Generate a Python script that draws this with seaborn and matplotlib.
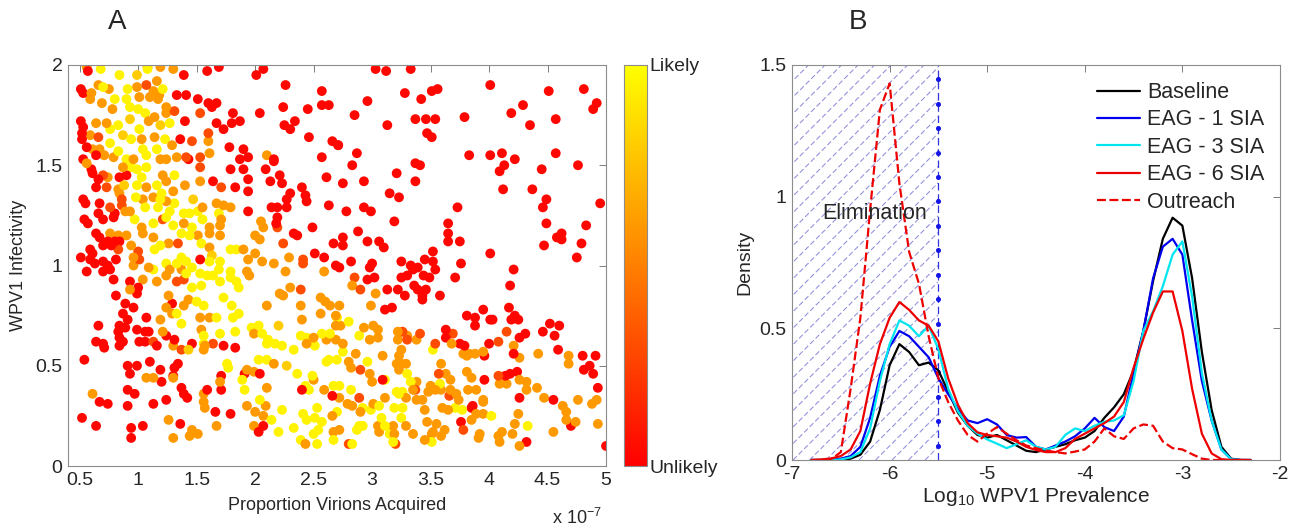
import numpy as np
import pandas as pd
import matplotlib
matplotlib.use("Agg")
import matplotlib.pyplot as plt
import seaborn as sns
from matplotlib.colors import Normalize
from matplotlib.cm import ScalarMappable

# ---------------- Panel A: parameter sets, grouped by likelihood band ----------------
# (proportion of virions acquired [x 1e-7], WPV1 infectivity)
likelihood_levels = {"red": 0.03, "red_orange": 0.3, "orange": 0.6, "yellow_orange": 0.8, "yellow": 0.95}

red_pts = [
    (0.57,1.97),(1.39,1.95),(1.59,1.97),(1.69,1.99),(2.01,1.95),(2.07,1.98),(0.51,1.88),(0.53,1.86),(1.33,1.85),(1.41,1.85),
    (2.26,1.90),(2.57,1.87),(1.51,1.83),(1.60,1.81),(1.67,1.81),(1.63,1.79),(1.40,1.72),(1.81,1.76),(2.04,1.76),(2.24,1.79),
    (2.45,1.78),(2.57,1.80),(2.63,1.80),(1.67,1.71),(1.73,1.68),(1.80,1.71),(1.87,1.72),(2.25,1.70),(2.30,1.68),(2.34,1.72),
    (0.51,1.72),(0.53,1.69),(0.52,1.66),(0.52,1.63),(1.36,1.63),(0.56,1.59),(0.64,1.55),(1.43,1.53),(1.78,1.59),(1.90,1.58),
    (1.94,1.54),(1.87,1.53),(2.16,1.53),(2.46,1.64),(2.57,1.54),(2.66,1.62),(2.71,1.60),(0.53,1.53),(0.60,1.48),(0.61,1.46),
    (0.66,1.43),(0.64,1.39),(0.84,1.44),(0.90,1.45),(1.64,1.42),(1.79,1.48),(1.90,1.48),(1.83,1.39),(1.94,1.43),(2.09,1.48),
    (2.13,1.42),(2.16,1.52),(2.21,1.45),(2.23,1.41),(2.40,1.39),(2.61,1.44),(1.94,1.37),(0.53,1.33),(0.55,1.31),(0.67,1.31),
    (0.66,1.26),(0.54,1.23),(0.57,1.21),(0.80,1.26),(0.79,1.24),(0.70,1.23),(1.94,1.27),(2.18,1.21),(2.19,1.24),(2.14,1.29),
    (2.19,1.29),(2.27,1.33),(2.30,1.36),(2.27,1.29),(2.44,1.32),(2.43,1.35),(2.63,1.30),(2.49,1.19),(0.64,1.16),(0.74,1.12),
    (0.80,1.12),(0.84,1.12),(0.67,1.14),(0.70,1.10),(0.77,1.10),(2.33,1.16),(2.36,1.15),(2.67,1.11),(0.51,1.04),(0.59,1.08),
    (0.61,1.06),(0.59,1.03),(0.63,1.01),(0.70,1.02),(0.74,1.00),(0.81,1.03),(0.56,0.97),(0.70,0.97),(0.79,0.93),(0.76,0.98),
    (1.53,1.03),(2.51,1.06),(2.59,1.04),(2.69,1.00),(0.93,0.92),(1.00,0.89),(0.99,0.86),(0.81,0.85),(0.89,0.81),(0.87,0.76),
    (0.91,0.73),(1.07,0.74),(0.96,0.79),(1.29,0.81),(0.66,0.70),(0.84,0.70),(0.89,0.69),(0.83,0.67),(0.84,0.64),(0.87,0.62),
    (0.99,0.68),(1.06,0.67),(1.09,0.67),(1.01,0.62),(1.06,0.62),(1.16,0.60),(0.64,0.62),(0.70,0.61),(0.71,0.59),(0.84,0.60),
    (1.24,0.65),(1.31,0.63),(1.46,0.61),(1.73,0.60),(1.83,0.59),(0.54,0.53),(0.91,0.50),(0.93,0.46),(0.99,0.50),(1.10,0.52),
    (1.19,0.48),(1.31,0.49),(1.34,0.51),(1.30,0.45),(1.20,0.42),(0.91,0.38),(0.97,0.36),(1.39,0.36),(1.42,0.34),(1.37,0.39),
    (1.59,0.38),(1.71,0.45),(1.71,0.38),(1.91,0.46),(2.04,0.46),(2.40,0.38),(2.66,0.35),(0.67,0.32),(0.74,0.31),(0.91,0.30),
    (1.13,0.31),(1.24,0.33),(1.66,0.27),(1.79,0.26),(2.07,0.20),(2.03,0.17),(0.52,0.24),(0.64,0.20),(0.94,0.19),(0.94,0.14),
    (1.04,0.20),(1.36,0.21),
    (3.03,1.98),(3.12,1.97),(3.33,1.98),(3.28,1.86),(3.42,1.83),(3.51,1.87),(3.56,1.88),(2.96,1.82),(2.85,1.75),(3.13,1.70),
    (3.37,1.73),(3.46,1.73),(3.54,1.73),(3.47,1.66),(3.51,1.64),(3.79,1.74),(4.01,1.90),(4.19,1.76),(4.29,1.80),(4.35,1.70),
    (4.51,1.87),(4.57,1.73),(4.81,1.88),(4.89,1.78),(4.92,1.81),(2.71,1.60),(2.87,1.56),(2.83,1.50),(2.93,1.42),(2.75,1.41),
    (3.21,1.46),(3.37,1.51),(3.41,1.50),(3.37,1.42),(3.15,1.36),(3.23,1.34),(3.83,1.55),(4.01,1.55),(4.11,1.56),(4.13,1.50),
    (4.09,1.47),(4.22,1.53),(4.12,1.38),(4.57,1.56),(4.45,1.48),(4.76,1.50),(4.37,1.38),(4.49,1.33),(4.46,1.29),(4.49,1.21),
    (4.47,1.10),(4.58,1.14),(4.62,1.16),(4.62,1.13),(4.79,1.11),(4.83,1.20),(4.75,1.04),(4.95,1.31),(2.78,1.27),(2.93,1.29),
    (2.99,1.27),(3.19,1.22),(2.88,1.17),(2.75,1.14),(2.75,1.10),(2.96,1.12),(3.06,1.12),(3.10,1.09),(3.73,1.29),(3.65,1.21),
    (3.65,1.16),(3.65,1.12),(3.75,1.12),(3.52,1.07),(3.76,1.01),(4.01,1.06),(4.21,0.98),(4.18,0.90),(2.82,1.02),(2.98,0.99),
    (3.00,1.01),(2.96,0.93),(3.02,0.94),(3.13,0.88),(3.25,1.02),(3.33,1.00),(3.25,0.94),(3.30,0.95),(3.35,0.98),(3.39,0.99),
    (3.45,1.03),(3.52,1.02),(3.54,0.98),(3.44,0.95),(3.49,0.94),(3.36,0.90),(3.39,0.88),(3.46,0.88),(3.43,0.85),(3.22,0.88),
    (3.28,0.85),(3.43,0.83),(3.58,0.85),(3.71,0.94),(3.11,0.78),(3.17,0.79),(3.81,0.75),(3.88,0.74),(3.88,0.70),(3.95,0.78),
    (4.01,0.73),(4.03,0.73),(4.17,0.79),(4.19,0.73),(4.22,0.75),(4.25,0.73),(2.72,0.99),(3.63,0.68),(3.63,0.64),(3.75,0.61),
    (3.79,0.60),(3.96,0.55),(4.00,0.61),(4.21,0.56),(4.26,0.64),(4.31,0.66),(4.59,0.58),(4.80,0.55),(4.91,0.55),(4.81,0.48),
    (4.86,0.50),(4.89,0.46),(4.93,0.39),(4.52,0.71),(4.60,0.70),(4.46,0.67),(4.56,0.65),(3.86,0.30),(3.96,0.43),(4.14,0.45),
    (4.18,0.46),(4.24,0.47),(4.26,0.34),(4.55,0.33),(4.70,0.20),(5.00,0.10),(4.32,0.12),(3.76,0.22),(3.85,0.29),(3.09,0.43),
]

red_orange_pts = [
    (1.07,1.90),(1.31,1.77),(1.53,1.76),(0.66,1.64),(1.46,1.62),(1.60,1.66),(1.41,1.54),(1.53,1.54),(0.70,1.45),(0.73,1.39),
    (1.53,1.49),(1.71,1.39),(0.86,1.33),(0.76,1.29),(0.86,1.30),(1.21,1.23),(1.34,1.11),(0.83,1.08),(1.00,1.07),(1.01,1.03),
    (2.19,1.19),(2.24,1.11),(1.39,0.93),(1.33,0.92),(2.41,1.03),(2.41,1.01),(2.39,0.88),(1.13,0.62),(1.37,0.58),(1.64,0.61),
    (2.85,0.94),(2.90,0.88),(2.90,0.48),(3.26,0.67),(3.30,0.63),(3.41,0.66),(3.54,0.61),(3.69,0.66),(4.08,0.62),(4.15,0.67),
    (3.57,0.46),(3.66,0.35),(4.08,0.45),(3.37,0.38),(2.89,0.34),(2.80,0.11),(3.20,0.11),(3.78,0.18),
]

orange_pts = [
    (0.56,1.99),(1.08,1.99),(1.19,1.99),(1.16,1.92),(1.30,1.98),(0.60,1.86),(0.66,1.90),(0.75,1.88),(0.99,1.89),(1.13,1.87),
    (1.18,1.85),(0.59,1.83),(0.69,1.81),(1.01,1.84),(1.10,1.84),(1.17,1.83),(0.78,1.78),(1.14,1.74),(1.24,1.79),(1.24,1.76),
    (0.64,1.71),(0.73,1.71),(1.09,1.72),(1.03,1.63),(1.14,1.64),(1.29,1.60),(1.60,1.62),(0.59,1.65),(0.61,1.58),(0.67,1.58),
    (0.71,1.55),(0.79,1.54),(0.96,1.53),(1.19,1.53),(1.24,1.53),(1.33,1.54),(1.61,1.56),(2.10,1.55),(0.56,1.51),(0.74,1.44),
    (0.87,1.49),(1.07,1.39),(1.21,1.45),(1.24,1.42),(1.40,1.40),(1.30,1.37),(1.53,1.42),(0.83,1.38),(0.84,1.36),(0.93,1.27),
    (0.89,1.27),(1.04,1.33),(1.13,1.34),(1.24,1.32),(1.55,1.29),(1.67,1.31),(1.73,1.30),(1.79,1.29),(1.71,1.23),(1.61,1.19),
    (1.70,1.20),(2.05,1.22),(2.07,1.19),(1.03,1.19),(1.39,1.21),(0.76,1.16),(0.83,1.15),(0.90,1.15),(0.94,1.10),(1.04,1.16),
    (1.13,1.14),(1.26,1.11),(1.51,1.15),(1.61,1.16),(1.70,1.15),(1.90,1.08),(2.00,1.15),(2.04,1.13),(2.00,1.06),(1.61,1.09),
    (0.96,1.04),(0.96,1.00),(1.09,0.99),(1.27,0.98),(1.37,0.98),(1.24,0.95),(1.94,1.03),(1.93,0.97),(1.95,0.95),(2.06,1.02),
    (2.16,1.01),(2.29,1.04),(2.26,0.97),(2.59,0.97),(0.93,0.88),(1.04,0.93),(1.16,0.92),(2.21,0.86),(2.24,0.85),(2.30,0.89),
    (1.26,0.85),(1.24,0.79),(1.29,0.76),(1.39,0.80),(1.43,0.83),(1.19,0.73),(1.53,0.74),(1.61,0.74),(2.10,0.80),(2.39,0.80),
    (2.40,0.73),(2.56,0.84),(2.60,0.82),(2.64,0.80),(2.69,0.75),(2.56,0.76),(2.69,0.70),(1.21,0.67),(1.30,0.60),(1.54,0.68),
    (1.57,0.60),(1.56,0.58),(1.99,0.66),(2.44,0.61),(2.50,0.64),(2.61,0.63),(2.69,0.63),(1.30,0.44),(1.13,0.44),(1.07,0.44),
    (1.70,0.42),(1.93,0.48),(1.99,0.47),(2.16,0.51),(2.50,0.43),(2.59,0.38),(2.10,0.39),(0.61,0.36),(1.56,0.36),(1.56,0.32),
    (1.57,0.29),(1.93,0.30),(2.09,0.30),(2.00,0.27),(2.07,0.25),(1.99,0.20),(2.43,0.11),(2.66,0.25),(2.67,0.17),(1.26,0.23),
    (1.30,0.14),(1.44,0.15),(1.46,0.18),(1.51,0.16),(1.67,0.20),
    (2.83,0.90),(2.72,0.80),(2.99,0.80),(3.03,0.86),(2.73,0.70),(2.93,0.69),(3.01,0.70),(3.05,0.68),(2.98,0.63),(3.05,0.64),
    (2.75,0.61),(2.86,0.56),(2.80,0.52),(2.82,0.49),(2.98,0.46),(3.09,0.55),(3.22,0.67),(3.30,0.65),(3.38,0.63),(3.22,0.63),
    (3.25,0.58),(3.23,0.55),(3.25,0.51),(3.21,0.51),(3.29,0.51),(3.23,0.48),(3.68,0.61),(3.78,0.56),(3.83,0.56),(3.81,0.55),
    (3.88,0.56),(3.95,0.57),(4.21,0.60),(4.26,0.54),(4.42,0.56),(4.68,0.55),(4.68,0.51),(3.59,0.51),(3.63,0.46),(3.67,0.43),
    (3.50,0.40),(3.54,0.38),(3.48,0.37),(3.59,0.38),(3.67,0.38),(3.72,0.36),(3.74,0.33),(3.81,0.47),(3.85,0.44),(3.89,0.38),
    (3.82,0.38),(3.95,0.33),(3.95,0.32),(3.89,0.26),(3.95,0.26),(4.26,0.43),(4.32,0.42),(4.09,0.41),(4.15,0.41),(4.32,0.38),
    (4.41,0.39),(4.47,0.34),(4.63,0.30),(4.66,0.27),(4.76,0.33),(4.88,0.31),(4.92,0.33),(4.66,0.23),(4.74,0.22),(4.93,0.21),
    (4.25,0.26),(4.22,0.21),(4.26,0.10),(4.20,0.16),(4.11,0.17),(4.08,0.15),(4.09,0.12),(4.55,0.17),(3.92,0.16),(3.91,0.14),
    (3.62,0.18),(3.59,0.15),(3.51,0.16),(3.45,0.13),(3.52,0.17),(3.47,0.22),(3.55,0.21),(3.43,0.33),(3.45,0.28),(3.38,0.33),
    (3.35,0.38),(3.38,0.42),(3.29,0.34),(3.18,0.20),(3.11,0.34),(3.00,0.42),(3.01,0.31),(2.90,0.27),(2.83,0.30),(2.79,0.31),
    (2.72,0.34),(2.72,0.18),(3.05,0.20),(3.06,0.17),(3.19,0.16),(3.29,0.20),(3.35,0.16),(3.60,0.29),(3.65,0.28),(3.85,0.23),
]

yellow_orange_pts = [
    (0.99,1.95),(0.87,1.65),(0.93,1.73),(1.43,0.58),(1.19,1.70),(0.88,1.40),(1.47,1.33),(1.63,1.05),(2.20,0.70),(2.27,0.50),
]

yellow_pts = [
    (0.68,1.98),(0.84,1.95),(1.08,1.98),(0.70,1.89),(0.91,1.88),(1.21,1.88),(0.80,1.83),(0.90,1.83),(0.93,1.79),(1.00,1.78),
    (1.06,1.76),(1.27,1.71),(0.83,1.70),(0.76,1.68),(0.76,1.61),(0.94,1.63),(1.01,1.68),(1.23,1.63),(0.83,1.57),(0.90,1.53),
    (1.04,1.58),(1.07,1.55),(1.16,1.58),(0.94,1.49),(0.99,1.48),(1.07,1.49),(1.03,1.44),(0.99,1.40),(1.16,1.40),(1.31,1.45),
    (1.20,1.36),(0.98,1.34),(1.06,1.29),(1.19,1.33),(1.17,1.29),(1.31,1.31),(1.27,1.27),(1.24,1.24),(1.39,1.26),(1.44,1.26),
    (1.51,1.27),(1.69,1.26),(1.55,1.23),(0.97,1.23),(1.13,1.21),(1.30,1.20),(1.46,1.19),(1.19,1.10),(1.14,1.08),(1.37,1.16),
    (1.44,1.15),(1.54,1.11),(1.79,1.08),(1.84,1.08),(1.13,0.98),(1.24,1.01),(1.33,1.01),(1.37,1.04),(1.41,1.02),(1.46,0.99),
    (1.61,1.02),(1.70,1.02),(1.69,0.98),(1.79,0.97),(1.59,0.95),(1.53,0.96),(1.41,0.96),(1.84,0.92),(1.86,0.89),(1.79,0.94),
    (1.70,0.92),(1.64,0.95),(1.46,0.89),(1.54,0.90),(1.33,0.76),(1.37,0.71),(1.50,0.82),(1.56,0.80),(1.67,0.74),(1.73,0.84),
    (1.80,0.80),(1.81,0.74),(1.86,0.76),(1.56,0.65),(1.56,0.61),(1.70,0.66),(1.83,0.67),(1.97,0.69),(2.03,0.70),(2.06,0.66),
    (2.11,0.63),(2.17,0.61),(2.23,0.60),(2.10,0.61),(2.33,0.58),(2.39,0.65),(2.44,0.64),(2.57,0.66),(2.64,0.66),(2.51,0.60),
    (2.63,0.53),(1.76,0.51),(1.77,0.49),(1.89,0.43),(1.91,0.38),(2.03,0.53),(2.10,0.53),(2.36,0.46),(2.49,0.45),(2.43,0.40),
    (2.46,0.38),(2.67,0.40),(2.61,0.52),(2.70,0.53),(2.04,0.33),(2.23,0.28),(2.14,0.23),(2.20,0.17),(2.33,0.19),(2.41,0.26),
    (2.44,0.23),(2.53,0.29),(2.51,0.24),(2.57,0.22),(2.54,0.18),(2.50,0.16),(2.39,0.13),(2.53,0.11),(2.67,0.13),
    (2.70,0.74),(2.80,0.72),(2.89,0.65),(2.75,0.57),(2.96,0.52),(3.30,0.46),(3.52,0.58),(3.58,0.41),(3.71,0.29),(3.77,0.28),
    (4.02,0.25),(4.33,0.20),(3.51,0.12),(3.33,0.42),(3.26,0.37),(3.21,0.37),(3.23,0.36),(3.19,0.29),(3.26,0.29),(3.25,0.24),
    (3.11,0.20),(3.08,0.24),(3.11,0.43),(3.06,0.30),(2.99,0.28),(2.92,0.29),(2.82,0.38),(2.72,0.40),(2.70,0.27),(2.89,0.20),
    (2.87,0.18),(2.92,0.20),(2.83,0.11),(3.15,0.16),(3.18,0.12),
]

# ---------------- Panel B: density of log10 WPV1 prevalence ----------------
log_prevalence = [-6.8, -6.7, -6.6, -6.5, -6.4, -6.3, -6.2, -6.1, -6.0, -5.9, -5.8, -5.7, -5.6, -5.5, -5.4, -5.3,
                  -5.2, -5.1, -5.0, -4.9, -4.8, -4.7, -4.6, -4.5, -4.4, -4.3, -4.2, -4.1, -4.0, -3.9, -3.8, -3.7,
                  -3.6, -3.5, -3.4, -3.3, -3.2, -3.1, -3.0, -2.9, -2.8, -2.7, -2.6, -2.5, -2.4, -2.3]
baseline = [0, 0, 0, 0, 0.005, 0.02, 0.07, 0.19, 0.36, 0.44, 0.41, 0.36, 0.37, 0.34, 0.26, 0.18,
            0.13, 0.095, 0.085, 0.095, 0.075, 0.055, 0.035, 0.03, 0.04, 0.05, 0.06, 0.075, 0.085, 0.11, 0.16, 0.20,
            0.25, 0.34, 0.49, 0.68, 0.84, 0.92, 0.89, 0.69, 0.41, 0.19, 0.05, 0.005, 0, 0]
eag_1_sia = [0, 0, 0.002, 0.005, 0.015, 0.05, 0.16, 0.32, 0.43, 0.49, 0.47, 0.43, 0.39, 0.31, 0.25, 0.195,
             0.15, 0.14, 0.155, 0.135, 0.095, 0.085, 0.087, 0.05, 0.04, 0.055, 0.07, 0.09, 0.12, 0.16, 0.125, 0.11,
             0.165, 0.33, 0.49, 0.69, 0.81, 0.84, 0.78, 0.53, 0.30, 0.15, 0.04, 0.003, 0, 0]
eag_3_sia = [0, 0, 0, 0.002, 0.01, 0.03, 0.12, 0.30, 0.44, 0.53, 0.51, 0.47, 0.51, 0.42, 0.27, 0.185,
             0.13, 0.10, 0.078, 0.062, 0.045, 0.06, 0.075, 0.05, 0.04, 0.05, 0.095, 0.12, 0.11, 0.13, 0.145, 0.15,
             0.17, 0.30, 0.49, 0.565, 0.66, 0.78, 0.83, 0.62, 0.33, 0.15, 0.04, 0.003, 0, 0]
eag_6_sia = [0, 0.002, 0.006, 0.015, 0.04, 0.11, 0.29, 0.44, 0.54, 0.60, 0.57, 0.53, 0.51, 0.45, 0.31, 0.21,
             0.14, 0.105, 0.095, 0.09, 0.085, 0.07, 0.05, 0.038, 0.03, 0.03, 0.045, 0.08, 0.10, 0.12, 0.14, 0.165,
             0.22, 0.35, 0.46, 0.56, 0.64, 0.64, 0.49, 0.27, 0.10, 0.025, 0.003, 0, 0, 0]
outreach = [0, 0, 0.003, 0.03, 0.27, 0.54, 0.95, 1.33, 1.43, 1.05, 0.79, 0.67, 0.47, 0.31, 0.22, 0.15,
            0.095, 0.07, 0.10, 0.125, 0.10, 0.075, 0.055, 0.045, 0.036, 0.03, 0.025, 0.032, 0.04, 0.07, 0.12, 0.09,
            0.08, 0.12, 0.135, 0.13, 0.07, 0.045, 0.04, 0.022, 0.005, 0, 0, 0, 0, 0]
scenario_names = ["Baseline", "EAG - 1 SIA", "EAG - 3 SIA", "EAG - 6 SIA", "Outreach"]
scenario_colors = ["black", "#0000ee", "#00e5ee", "#ee0000", "#ee0000"]
elimination_threshold = -5.5

# ---------------- styling ----------------
sns.set_theme(style="white")
plt.rcParams["font.family"] = ["Liberation Sans", "DejaVu Sans"]
plt.rcParams["mathtext.fontset"] = "custom"
plt.rcParams["mathtext.rm"] = "Liberation Sans"
plt.rcParams["mathtext.it"] = "Liberation Sans"
TICK_FS = 14
SPINE = "#8c8c8c"

fig = plt.figure(figsize=(12.9, 5.31), dpi=100)
axA = fig.add_axes([0.0527, 0.1224, 0.4171, 0.7552])
cax = fig.add_axes([0.4837, 0.1224, 0.0178, 0.7552])
axB = fig.add_axes([0.6140, 0.1337, 0.3782, 0.7439])

# Panel A scatter
frames = []
for name, pts in [("red", red_pts), ("red_orange", red_orange_pts), ("orange", orange_pts),
                  ("yellow_orange", yellow_orange_pts), ("yellow", yellow_pts)]:
    arr = np.array(pts)
    frames.append(pd.DataFrame({"virions": arr[:, 0], "infectivity": arr[:, 1],
                                "likelihood": likelihood_levels[name]}))
dfA = pd.concat(frames, ignore_index=True)
dfA = dfA.sample(frac=1.0, random_state=3).reset_index(drop=True)  # interleave draw order

norm = Normalize(0, 1)
sns.scatterplot(data=dfA, x="virions", y="infectivity", hue="likelihood", palette="autumn",
                hue_norm=norm, s=50, linewidth=0, alpha=1.0, legend=False, ax=axA)
axA.set_xlim(0.4, 5.0)
axA.set_ylim(0, 2)
axA.set_xticks([0.5, 1, 1.5, 2, 2.5, 3, 3.5, 4, 4.5, 5])
axA.set_xticklabels(["0.5", "1", "1.5", "2", "2.5", "3", "3.5", "4", "4.5", "5"])
axA.set_yticks([0, 0.5, 1, 1.5, 2])
axA.set_yticklabels(["0", "0.5", "1", "1.5", "2"])
axA.set_xlabel("Proportion Virions Acquired", fontsize=13, labelpad=6)
axA.set_ylabel("WPV1 Infectivity", fontsize=13, labelpad=6)
fig.text(0.428, 0.006, r"x 10$^{-7}$", fontsize=13, ha="left", va="bottom")

# colorbar
cb = fig.colorbar(ScalarMappable(norm=norm, cmap="autumn"), cax=cax)
cb.set_ticks([0, 0.25, 0.5, 0.75, 1])
cb.set_ticklabels(["Unlikely", "", "", "", "Likely"])
cb.outline.set_edgecolor(SPINE)
cb.outline.set_linewidth(0.8)
cax.tick_params(direction="in", length=4, width=0.6, color="#555555", left=True, right=True,
                labelsize=TICK_FS, pad=2)

# Panel B: hatched elimination zone with dashed diagonal lines
axB.set_xlim(-7, -2)
axB.set_ylim(0, 1.5)
zone = axB.axvspan(-7, elimination_threshold, facecolor="none", edgecolor="none", linewidth=0, zorder=0)
(px0, py0) = axB.transData.transform((-7, 0))
(px1, py1) = axB.transData.transform((elimination_threshold, 1.5))
zone_h = py1 - py0
inv = axB.transData.inverted()
for off in np.arange(-zone_h, (px1 - px0) + 1, 16.5):
    p_start = inv.transform((px0 + off, py0))
    p_end = inv.transform((px0 + off + zone_h, py1))
    hl, = axB.plot([p_start[0], p_end[0]], [p_start[1], p_end[1]], color="#8e8edc", lw=0.75,
                   ls=(0, (5, 2.5)), zorder=0.5)
    hl.set_clip_path(zone)

series = [baseline, eag_1_sia, eag_3_sia, eag_6_sia, outreach]
dfB = pd.DataFrame({"log_prev": np.tile(log_prevalence, len(series)),
                    "density": np.concatenate(series),
                    "scenario": np.repeat(scenario_names, len(log_prevalence))})
sns.lineplot(data=dfB, x="log_prev", y="density", hue="scenario", style="scenario",
             palette=dict(zip(scenario_names, scenario_colors)),
             dashes={n: ((4, 1.6) if n == "Outreach" else "") for n in scenario_names},
             linewidth=1.6, ax=axB, sort=False)
axB.plot([elimination_threshold, elimination_threshold], [0, 1.5], color="#3333dd", lw=0.9,
         ls=(0, (6, 3)), zorder=1)
axB.plot(np.full(16, elimination_threshold), np.linspace(0.055, 1.445, 16), ls="none", marker="o",
         ms=2.6, color="#1414e6", zorder=1)
axB.text(-6.69, 0.935, "Elimination", fontsize=15.5, ha="left", va="center")
axB.set_xlim(-7, -2)
axB.set_ylim(0, 1.5)
axB.set_xticks([-7, -6, -5, -4, -3, -2])
axB.set_xticklabels(["-7", "-6", "-5", "-4", "-3", "-2"])
axB.set_yticks([0, 0.5, 1, 1.5])
axB.set_yticklabels(["0", "0.5", "1", "1.5"])
axB.set_xlabel(r"Log$_{10}$ WPV1 Prevalence", fontsize=15, labelpad=2)
axB.set_ylabel("Density", fontsize=14, labelpad=4)
leg = axB.legend(loc="upper right", bbox_to_anchor=(1.0, 0.995), frameon=False, fontsize=15.5,
                 handlelength=2.0, handletextpad=0.35, labelspacing=0.3, borderaxespad=0.3)
for line in leg.get_lines():
    line.set_linewidth(1.6)

for ax in (axA, axB):
    for sp in ax.spines.values():
        sp.set_color(SPINE)
        sp.set_linewidth(0.8)
    ax.tick_params(direction="in", top=True, right=True, length=5, width=0.6, color="#666666",
                   labelsize=TICK_FS, pad=4)

fig.text(0.0907, 0.958, "A", fontsize=20, ha="center", va="center")
fig.text(0.665, 0.958, "B", fontsize=20, ha="center", va="center")

fig.savefig("out.png", dpi=100, facecolor="white")
